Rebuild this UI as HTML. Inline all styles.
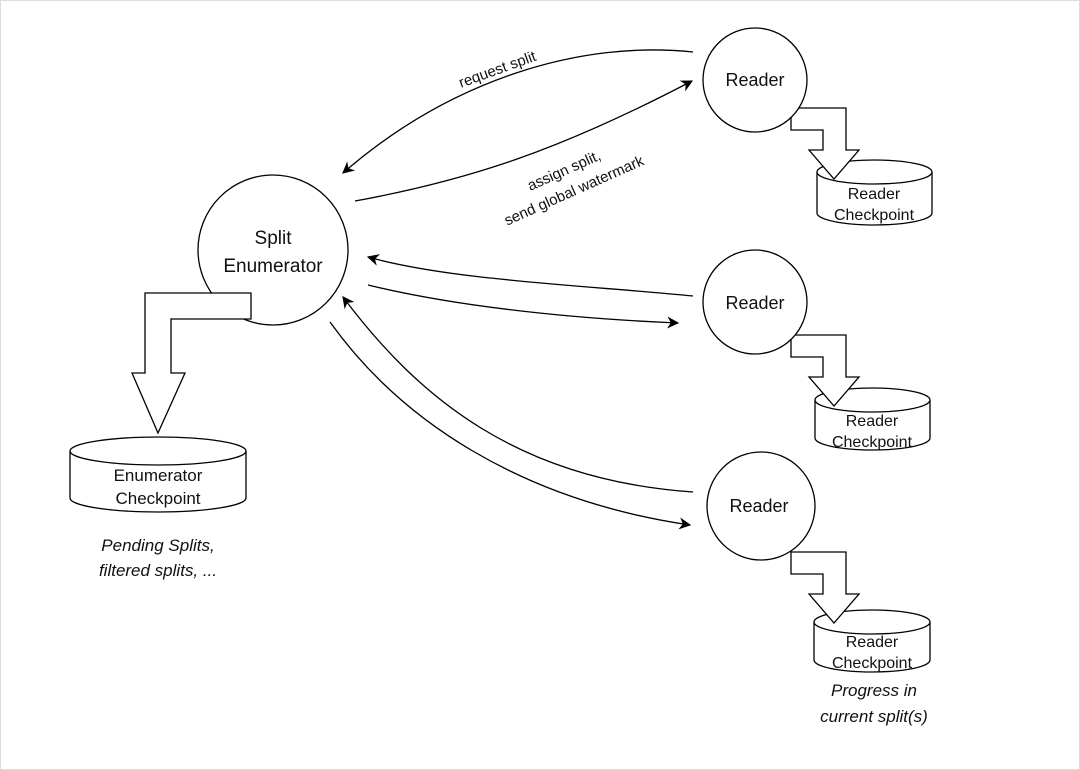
<!DOCTYPE html>
<html><head><meta charset="utf-8"><style>
html,body{margin:0;padding:0;background:#fff}
svg{display:block}
text{font-family:"Liberation Sans",Arial,sans-serif;fill:#111}
</style></head><body>
<svg width="1080" height="770" viewBox="0 0 1080 770" xmlns="http://www.w3.org/2000/svg">
<defs>
<marker id="ah" viewBox="0 0 10 10" refX="9" refY="5" markerWidth="12" markerHeight="12" orient="auto" markerUnits="userSpaceOnUse">
<path d="M0,0 L10,5 L0,10 L3,5 Z" fill="#000"/>
</marker>
<path id="ba" d="M791,552 L846,552 L846,594 L859,594 L834,623 L809,594 L823,594 L823,574 L791,574 Z" fill="#fff" stroke="#000" stroke-width="1.3"/>
</defs>
<rect x="0.5" y="0.5" width="1079" height="769" fill="#fff" stroke="#ddd"/>
<g fill="none" stroke="#000" stroke-width="1.3">
<path d="M693,52 C580,40 450,80 343,173" marker-end="url(#ah)"/>
<path d="M355,201 C470,180 560,150 692,81" marker-end="url(#ah)"/>
<path d="M693,296 C580,285 450,280 368,257" marker-end="url(#ah)"/>
<path d="M368,285 C450,305 560,318 678,323" marker-end="url(#ah)"/>
<path d="M693,492 C520,480 420,400 343,297" marker-end="url(#ah)"/>
<path d="M330,322 C400,420 520,500 690,525" marker-end="url(#ah)"/>
</g>
<circle cx="273" cy="250" r="75" fill="#fff" stroke="#000" stroke-width="1.3"/>
<text x="273" y="244" font-size="19" text-anchor="middle">Split</text>
<text x="273" y="272" font-size="19" text-anchor="middle">Enumerator</text>
<path d="M70,451 L70,498 A88,14 0 0 0 246,498 L246,451" fill="#fff" stroke="#000" stroke-width="1.3"/>
<ellipse cx="158" cy="451" rx="88" ry="14" fill="#fff" stroke="#000" stroke-width="1.3"/>
<path d="M145,293 L251,293 L251,319 L171,319 L171,373 L185,373 L158,433 L132,373 L145,373 Z" fill="#fff" stroke="#000" stroke-width="1.3"/>
<text x="158" y="481" font-size="17" text-anchor="middle">Enumerator</text>
<text x="158" y="504" font-size="17" text-anchor="middle">Checkpoint</text>
<text x="158" y="551" font-size="17" font-style="italic" text-anchor="middle">Pending Splits,</text>
<text x="158" y="576" font-size="17" font-style="italic" text-anchor="middle">filtered splits, ...</text>
<text x="0" y="0" font-size="15" text-anchor="middle" transform="translate(499,74) rotate(-20)">request split</text>
<text x="0" y="0" font-size="15" text-anchor="middle" transform="translate(566,175) rotate(-24)">assign split,</text>
<text x="0" y="0" font-size="15" text-anchor="middle" transform="translate(576,195) rotate(-24)">send global watermark</text>

<path d="M817,172 L817,213 A57.5,12 0 0 0 932,213 L932,172" fill="#fff" stroke="#000" stroke-width="1.3"/>
<ellipse cx="874.5" cy="172" rx="57.5" ry="12" fill="#fff" stroke="#000" stroke-width="1.3"/>
<use href="#ba" transform="translate(0,-444)"/>
<circle cx="755" cy="80" r="52" fill="#fff" stroke="#000" stroke-width="1.3"/>
<text x="755" y="86" font-size="18" text-anchor="middle">Reader</text>
<text x="874" y="199" font-size="16" text-anchor="middle">Reader</text>
<text x="874" y="220" font-size="16" text-anchor="middle">Checkpoint</text>

<path d="M815,400 L815,438 A57.5,12 0 0 0 930,438 L930,400" fill="#fff" stroke="#000" stroke-width="1.3"/>
<ellipse cx="872.5" cy="400" rx="57.5" ry="12" fill="#fff" stroke="#000" stroke-width="1.3"/>
<use href="#ba" transform="translate(0,-217)"/>
<circle cx="755" cy="302" r="52" fill="#fff" stroke="#000" stroke-width="1.3"/>
<text x="755" y="309" font-size="18" text-anchor="middle">Reader</text>
<text x="872" y="426" font-size="16" text-anchor="middle">Reader</text>
<text x="872" y="447" font-size="16" text-anchor="middle">Checkpoint</text>

<path d="M814,622 L814,660 A58,12 0 0 0 930,660 L930,622" fill="#fff" stroke="#000" stroke-width="1.3"/>
<ellipse cx="872" cy="622" rx="58" ry="12" fill="#fff" stroke="#000" stroke-width="1.3"/>
<use href="#ba"/>
<circle cx="761" cy="506" r="54" fill="#fff" stroke="#000" stroke-width="1.3"/>
<text x="759" y="512" font-size="18" text-anchor="middle">Reader</text>
<text x="872" y="647" font-size="16" text-anchor="middle">Reader</text>
<text x="872" y="668" font-size="16" text-anchor="middle">Checkpoint</text>
<text x="874" y="696" font-size="17" font-style="italic" text-anchor="middle">Progress in</text>
<text x="874" y="722" font-size="17" font-style="italic" text-anchor="middle">current split(s)</text>
</svg>
</body></html>
